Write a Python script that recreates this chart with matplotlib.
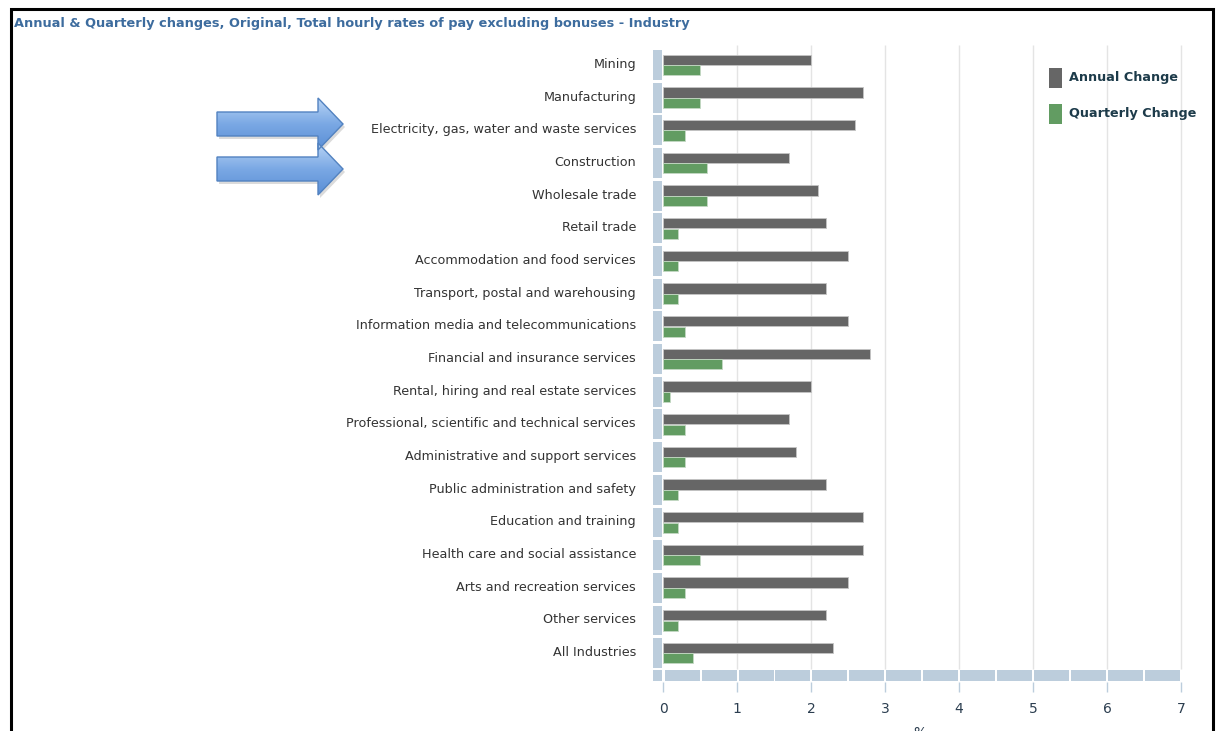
import numpy as np
import matplotlib.pyplot as plt
from matplotlib.patches import Rectangle, Polygon
from matplotlib.colors import LinearSegmentedColormap

industries = [
    "Mining",
    "Manufacturing",
    "Electricity, gas, water and waste services",
    "Construction",
    "Wholesale trade",
    "Retail trade",
    "Accommodation and food services",
    "Transport, postal and warehousing",
    "Information media and telecommunications",
    "Financial and insurance services",
    "Rental, hiring and real estate services",
    "Professional, scientific and technical services",
    "Administrative and support services",
    "Public administration and safety",
    "Education and training",
    "Health care and social assistance",
    "Arts and recreation services",
    "Other services",
    "All Industries",
]
annual_change = [2.0, 2.7, 2.6, 1.7, 2.1, 2.2, 2.5, 2.2, 2.5, 2.8,
                 2.0, 1.7, 1.8, 2.2, 2.7, 2.7, 2.5, 2.2, 2.3]
quarterly_change = [0.5, 0.5, 0.3, 0.6, 0.6, 0.2, 0.2, 0.2, 0.3, 0.8,
                    0.1, 0.3, 0.3, 0.2, 0.2, 0.5, 0.3, 0.2, 0.4]
x_ticks = [0, 1, 2, 3, 4, 5, 6, 7]

W, H = 1217, 731
ANNUAL = "#666666"
QUARTER = "#629c62"
AXIS_BLUE = "#bccddc"

fig = plt.figure(figsize=(W / 100, H / 100), dpi=100)
fig.patch.set_facecolor("white")


def fx(px):
    return px / W


def fy(py):
    return 1 - py / H


# main bar area, laid out in pixel units of the figure
ax = fig.add_axes([fx(650), fy(682), fx(1183) - fx(650), fy(45) - fy(682)])
ax.set_xlim(-0.176, 7.027)
ax.set_ylim(18.886, -0.612)

rows = np.arange(len(industries))

# vertical grid lines
ax.vlines(x_ticks[1:], -0.612, 18.5, color="#e4e4e4", lw=1, zorder=0)

ax.barh(rows - 0.16, annual_change, height=0.31, color=ANNUAL,
        edgecolor="#c4c4c4", lw=0.6, zorder=3)
ax.barh(rows + 0.16, quarterly_change, height=0.31, color=QUARTER,
        edgecolor="#c4d8c4", lw=0.6, zorder=3)

# pale blue category blocks along the left edge
for r in rows:
    ax.add_patch(Rectangle((-0.135, r - 0.455), 0.125, 0.91,
                           color=AXIS_BLUE, lw=0, zorder=2))

# segmented value axis band
band_y, band_h = 18.52, 0.34
ax.add_patch(Rectangle((-0.135, band_y), 0.125, band_h, color=AXIS_BLUE, lw=0))
for k in range(14):
    ax.add_patch(Rectangle((k * 0.5 + 0.02, band_y), 0.5 - 0.027, band_h,
                           color=AXIS_BLUE, lw=0))

for s in ax.spines.values():
    s.set_visible(False)
ax.set_xticks(x_ticks)
ax.set_xticklabels([str(t) for t in x_ticks], fontsize=10, color="#2c3e50")
ax.tick_params(axis="x", length=7.5, width=1, color=AXIS_BLUE, pad=7)
ax.set_yticks(rows - 0.06)
ax.set_yticklabels(industries, fontsize=9.2, color="#333333")
ax.tick_params(axis="y", length=0, pad=10)
ax.set_facecolor("none")

# overlay in pixel coordinates for frame, title, legend and arrows
ov = fig.add_axes([0, 0, 1, 1], zorder=5)
ov.set_xlim(0, W)
ov.set_ylim(H, 0)
ov.axis("off")
ov.patch.set_alpha(0)

ov.plot([11, 11, 1213, 1213], [H + 5, 9, 9, H + 5], color="black", lw=2.2,
        solid_joinstyle="miter")

ov.text(14, 24, "Annual & Quarterly changes, Original, Total hourly rates of pay "
        "excluding bonuses - Industry", fontsize=9.3, fontweight="bold",
        color="#3d6c9e", va="center", ha="left")

for ytop, color, label in [(68, ANNUAL, "Annual Change"),
                           (104, QUARTER, "Quarterly Change")]:
    ov.add_patch(Rectangle((1049, ytop), 13, 20, color=color, lw=0))
    ov.text(1069, ytop + 10, label, fontsize=9.2, fontweight="bold",
            color="#1d3b4a", va="center", ha="left")

ov.text(920, 726, "%", fontsize=10, color="#2c3e50", ha="center", va="top")

# block arrows pointing at two of the categories
grad = LinearSegmentedColormap.from_list("arrow", ["#b8d4f5", "#7aa8e4", "#5a8fd6"])
for cy in (124, 169):
    pts = [(217, cy - 12), (318, cy - 12), (318, cy - 26), (343, cy),
           (318, cy + 26), (318, cy + 12), (217, cy + 12)]
    shadow = Polygon([(x + 2, y + 3) for x, y in pts], closed=True,
                     color="#888888", alpha=0.3, lw=0)
    ov.add_patch(shadow)
    arrow = Polygon(pts, closed=True, facecolor="none",
                    edgecolor="#5282c0", lw=1)
    ov.add_patch(arrow)
    img = ov.imshow(np.linspace(0, 1, 64).reshape(-1, 1), cmap=grad,
                    extent=[217, 343, cy + 26, cy - 26], aspect="auto",
                    origin="upper", zorder=2)
    img.set_clip_path(arrow)
    arrow.set_zorder(3)
ov.set_xlim(0, W)
ov.set_ylim(H, 0)

fig.savefig("out.png", dpi=100)
